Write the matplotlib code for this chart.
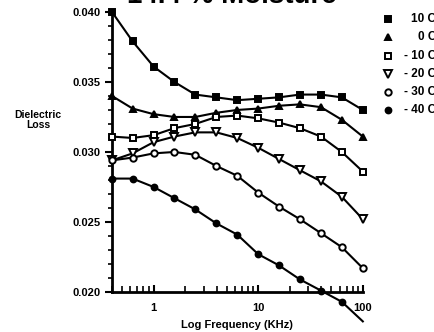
import numpy as np
import matplotlib
matplotlib.use("Agg")
import matplotlib.pyplot as plt
from matplotlib.lines import Line2D
from matplotlib.ticker import LogLocator, MultipleLocator, FixedLocator, NullFormatter

plt.rcParams['font.family'] = ['Liberation Sans', 'DejaVu Sans']
plt.rcParams['font.weight'] = 'bold'

# frequencies (KHz), 0.2 decade steps
freq = [0.4, 0.63, 1.0, 1.58, 2.5, 3.98, 6.3, 10, 15.8, 25, 39.8, 63, 100]

loss_10 = [0.0400, 0.0379, 0.0361, 0.0350, 0.0341, 0.0339, 0.0337, 0.0338, 0.0339, 0.0341, 0.0341, 0.0339, 0.0330]
loss_0 = [0.0340, 0.0331, 0.0327, 0.0325, 0.0325, 0.0328, 0.0330, 0.0331, 0.0333, 0.0334, 0.0332, 0.0323, 0.0311]
loss_m10 = [0.0311, 0.0310, 0.0312, 0.0317, 0.0320, 0.0325, 0.0326, 0.0324, 0.0321, 0.0317, 0.0311, 0.0300, 0.0286]
loss_m20 = [0.0294, 0.0299, 0.0307, 0.0311, 0.0314, 0.0314, 0.0310, 0.0303, 0.0295, 0.0287, 0.0279, 0.0268, 0.0252]
loss_m30 = [0.0294, 0.0296, 0.0299, 0.0300, 0.0298, 0.0290, 0.0283, 0.0271, 0.0261, 0.0252, 0.0242, 0.0232, 0.0217]
loss_m40 = [0.0281, 0.0281, 0.0275, 0.0267, 0.0259, 0.0249, 0.0241, 0.0227, 0.0219, 0.0209, 0.0201, 0.0193, 0.0179]

labels = ['10 C', '0 C', '- 10 C', '- 20 C', '- 30 C', '- 40 C']
series = [loss_10, loss_0, loss_m10, loss_m20, loss_m30, loss_m40]
markers = ['s', '^', 's', 'v', 'o', 'o']
filled = [True, True, False, False, False, True]
msizes = [3.8, 4.2, 5, 5.2, 4.6, 4.2]

fig = plt.figure(figsize=(4.34, 3.32), dpi=100)
ax = fig.add_axes([0.258, 0.1205, 0.578, 0.8435])

for ys, m, f, ms in zip(series, markers, filled, msizes):
    # last -40 C point lies off the axis, no marker drawn there
    mk = list(range(len(ys) - 1)) if ys is loss_m40 else None
    ax.plot(freq, ys, color='black', lw=1.5, marker=m, ms=ms, markevery=mk,
            mfc='black' if f else 'white', mec='black', mew=1.4,
            clip_on=False, zorder=3)

ax.set_xscale('log')
ax.set_xlim(0.4, 100)
ax.set_ylim(0.020, 0.040)

ax.spines['top'].set_visible(False)
ax.spines['right'].set_visible(False)
ax.spines['left'].set_linewidth(2)
ax.spines['bottom'].set_linewidth(2)

ax.yaxis.set_major_locator(MultipleLocator(0.005))
ax.yaxis.set_minor_locator(MultipleLocator(0.001))
ax.yaxis.set_major_formatter(plt.FormatStrFormatter('%.3f'))
ax.tick_params(axis='y', which='major', direction='out', length=5, width=1.5, labelsize=8, pad=3)
ax.tick_params(axis='y', which='minor', direction='out', length=3, width=1.2)

ax.xaxis.set_major_locator(FixedLocator([1, 10, 100]))
ax.xaxis.set_major_formatter(plt.FixedFormatter(['1', '10', '100']))
ax.xaxis.set_minor_locator(LogLocator(base=10, subs=np.arange(2, 10)))
ax.xaxis.set_minor_formatter(NullFormatter())
ax.tick_params(axis='x', which='major', direction='in', length=5, width=1.5, labelsize=8, pad=8)
ax.tick_params(axis='x', which='minor', direction='in', length=4, width=1.2)

ax.set_xlabel('Log Frequency (KHz)', fontsize=8, fontweight='bold', labelpad=5)
fig.text(38 / 434, 1 - 120 / 332, 'Dielectric\nLoss', ha='center', va='center',
         fontsize=7.5, fontweight='bold', linespacing=1.0)

# title, cut off at top of the image
fig.text(232 / 434, 1 - 3 / 332, '14.4 % Moisture', ha='center', va='baseline',
         fontsize=20, fontweight='bold')

# legend
for i, (lab, m, f, ms) in enumerate(zip(labels, markers, filled, msizes)):
    yy = 1 - (19 + i * 18.3) / 332
    fig.add_artist(Line2D([388 / 434], [yy], marker=m, ms=ms, color='black',
                          mfc='black' if f else 'white', mec='black', mew=1.4,
                          transform=fig.transFigure))
    fig.text(436 / 434, yy, lab, ha='right', va='center', fontsize=8.5, fontweight='bold')

fig.savefig('out.png', dpi=100)
